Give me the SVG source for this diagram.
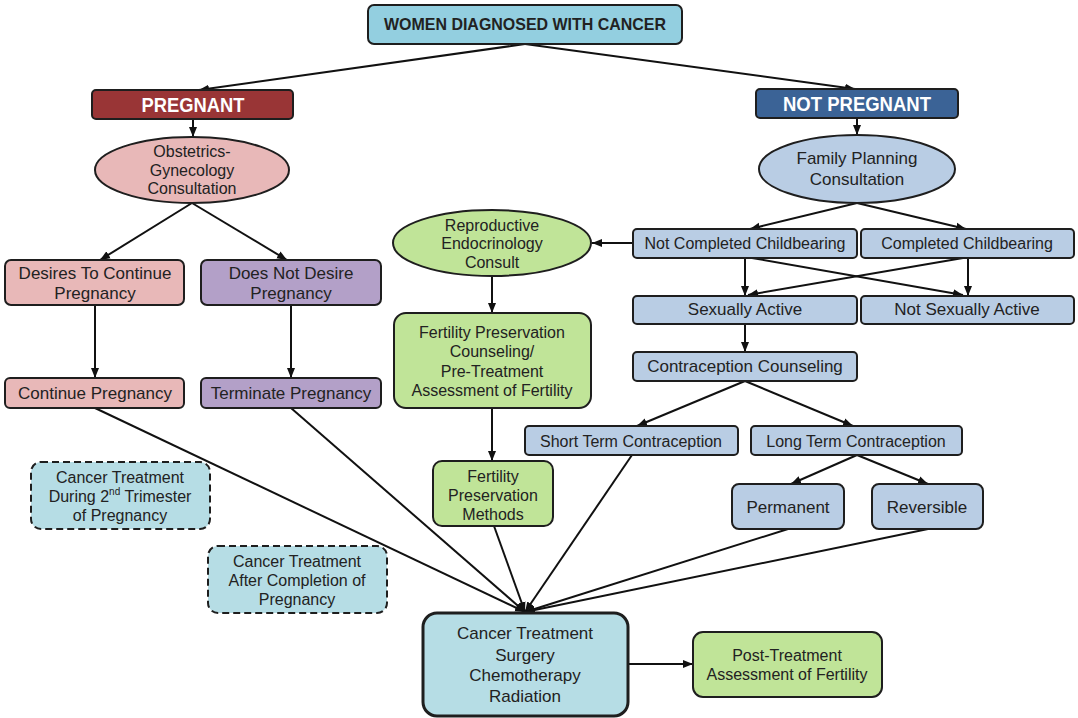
<svg xmlns="http://www.w3.org/2000/svg" width="1078" height="718" viewBox="0 0 1078 718">
<style>
  .n { stroke:#1e1e1e; stroke-width:2; }
  .t { font-family:"Liberation Sans", Arial, sans-serif; font-size:16px; fill:#222; text-anchor:middle; }
  .t17 { font-size:17px; }
  .hd { font-weight:bold; fill:#fff; font-size:20px; }
  .pink { fill:#e8b8b8; }
  .purple { fill:#b3a0c8; }
  .blue { fill:#b9cde4; }
  .green { fill:#c0e498; }
  .cyan { fill:#b6dde5; }
  .dash { stroke-dasharray:7 4; }
  .c line { stroke:#111; stroke-width:2; marker-end:url(#ah); }
</style>
<defs>
  <marker id="ah" viewBox="0 0 10 10" refX="10" refY="5" markerWidth="10" markerHeight="10" markerUnits="userSpaceOnUse" orient="auto">
    <path d="M0,1 L10,5 L0,9 z" fill="#111"/>
  </marker>
</defs>
<rect width="1078" height="718" fill="#fff"/>

<g class="c" id="connectors">
  <line x1="525" y1="44" x2="199" y2="90"/>
  <line x1="525" y1="44" x2="855" y2="89"/>
  <line x1="193" y1="119" x2="193" y2="137"/>
  <line x1="857" y1="118" x2="857" y2="135"/>
  <line x1="192" y1="203" x2="100" y2="260"/>
  <line x1="192" y1="203" x2="287" y2="260"/>
  <line x1="95" y1="305" x2="95" y2="378"/>
  <line x1="291" y1="305" x2="291" y2="378"/>
  <line x1="857" y1="203" x2="750" y2="229"/>
  <line x1="857" y1="203" x2="966" y2="229"/>
  <line x1="633" y1="243" x2="592" y2="243"/>
  <line x1="492" y1="277" x2="492" y2="313"/>
  <line x1="492" y1="408" x2="492" y2="461"/>
  <line x1="745" y1="258" x2="745" y2="296"/>
  <line x1="752" y1="258" x2="963" y2="295"/>
  <line x1="968" y1="258" x2="968" y2="296"/>
  <line x1="963" y1="258" x2="748" y2="295"/>
  <line x1="745" y1="324" x2="745" y2="352"/>
  <line x1="745" y1="381" x2="637" y2="426"/>
  <line x1="745" y1="381" x2="853" y2="426"/>
  <line x1="857" y1="455" x2="791" y2="484"/>
  <line x1="857" y1="455" x2="928" y2="484"/>
  <line x1="95" y1="408" x2="525" y2="612"/>
  <line x1="291" y1="408" x2="525" y2="612"/>
  <line x1="494" y1="526" x2="525" y2="612"/>
  <line x1="632" y1="455" x2="525" y2="612"/>
  <line x1="788" y1="529" x2="525" y2="612"/>
  <line x1="928" y1="529" x2="525" y2="612"/>
  <line x1="629" y1="664" x2="693" y2="664"/>
</g>

<g id="women">
  <rect class="n" x="368" y="5" width="314" height="39" rx="6" fill="#93cfe0"/>
  <text class="t" x="525" y="30" style="font-weight:bold;font-size:17px" textLength="282" lengthAdjust="spacingAndGlyphs">WOMEN DIAGNOSED WITH CANCER</text>
</g>
<g id="pregnant">
  <rect class="n" x="92" y="90" width="201" height="29" rx="4" fill="#993536"/>
  <text class="t hd" x="193" y="111.5" textLength="103" lengthAdjust="spacingAndGlyphs">PREGNANT</text>
</g>
<g id="notpregnant">
  <rect class="n" x="756" y="89" width="202" height="29" rx="4" fill="#3b6396"/>
  <text class="t hd" x="857" y="110.5" textLength="148" lengthAdjust="spacingAndGlyphs">NOT PREGNANT</text>
</g>
<g id="obgyn">
  <ellipse class="n pink" cx="192" cy="170" rx="97" ry="33"/>
  <text class="t" x="192" y="157">Obstetrics-</text>
  <text class="t" x="192" y="176">Gynecology</text>
  <text class="t" x="192" y="194">Consultation</text>
</g>
<g id="desires">
  <rect class="n pink" x="5" y="260" width="179" height="45" rx="6"/>
  <text class="t t17" x="95" y="279">Desires To Continue</text>
  <text class="t t17" x="95" y="299">Pregnancy</text>
</g>
<g id="doesnot">
  <rect class="n purple" x="201" y="260" width="180" height="45" rx="6"/>
  <text class="t t17" x="291" y="279">Does Not Desire</text>
  <text class="t t17" x="291" y="299">Pregnancy</text>
</g>
<g id="continue">
  <rect class="n pink" x="5" y="378" width="179" height="30" rx="5"/>
  <text class="t t17" x="95" y="399">Continue Pregnancy</text>
</g>
<g id="terminate">
  <rect class="n purple" x="201" y="378" width="180" height="30" rx="5"/>
  <text class="t t17" x="291" y="399">Terminate Pregnancy</text>
</g>
<g id="during">
  <rect class="n cyan dash" x="31" y="462" width="179" height="67" rx="10"/>
  <text class="t" x="120" y="483">Cancer Treatment</text>
  <text class="t" x="120" y="502">During 2<tspan font-size="10" dy="-7">nd</tspan><tspan dy="7"> Trimester</tspan></text>
  <text class="t" x="120" y="521">of Pregnancy</text>
</g>
<g id="after">
  <rect class="n cyan dash" x="208" y="546" width="179" height="67" rx="10"/>
  <text class="t" x="297" y="567">Cancer Treatment</text>
  <text class="t" x="297" y="586">After Completion of</text>
  <text class="t" x="297" y="605">Pregnancy</text>
</g>
<g id="repro">
  <ellipse class="n green" cx="492" cy="243" rx="99" ry="33"/>
  <text class="t" x="492" y="231">Reproductive</text>
  <text class="t" x="492" y="249">Endocrinology</text>
  <text class="t" x="492" y="268">Consult</text>
</g>
<g id="fpc">
  <rect class="n green" x="394" y="313" width="197" height="95" rx="12"/>
  <text class="t" x="492" y="338">Fertility Preservation</text>
  <text class="t" x="492" y="357">Counseling/</text>
  <text class="t" x="492" y="377">Pre-Treatment</text>
  <text class="t" x="492" y="396">Assessment of Fertility</text>
</g>
<g id="fpm">
  <rect class="n green" x="433" y="461" width="120" height="65" rx="9"/>
  <text class="t" x="493" y="482">Fertility</text>
  <text class="t" x="493" y="501">Preservation</text>
  <text class="t" x="493" y="520">Methods</text>
</g>
<g id="family">
  <ellipse class="n blue" cx="857" cy="169" rx="98" ry="34"/>
  <text class="t t17" x="857" y="164">Family Planning</text>
  <text class="t t17" x="857" y="185">Consultation</text>
</g>
<g id="notcompleted">
  <rect class="n blue" x="633" y="229" width="224" height="29" rx="4"/>
  <text class="t" x="745" y="249">Not Completed Childbearing</text>
</g>
<g id="completed">
  <rect class="n blue" x="861" y="229" width="213" height="29" rx="4"/>
  <text class="t" x="967" y="249">Completed Childbearing</text>
</g>
<g id="sexactive">
  <rect class="n blue" x="633" y="296" width="224" height="28" rx="4"/>
  <text class="t t17" x="745" y="315">Sexually Active</text>
</g>
<g id="notsexactive">
  <rect class="n blue" x="861" y="296" width="213" height="28" rx="4"/>
  <text class="t t17" x="967" y="315">Not Sexually Active</text>
</g>
<g id="contraception">
  <rect class="n blue" x="633" y="352" width="224" height="29" rx="4"/>
  <text class="t t17" x="745" y="372">Contraception Counseling</text>
</g>
<g id="shortterm">
  <rect class="n blue" x="525" y="426" width="213" height="29" rx="4"/>
  <text class="t" x="631" y="447">Short Term Contraception</text>
</g>
<g id="longterm">
  <rect class="n blue" x="751" y="426" width="211" height="29" rx="4"/>
  <text class="t" x="856" y="447">Long Term Contraception</text>
</g>
<g id="permanent">
  <rect class="n blue" x="732" y="484" width="112" height="45" rx="7"/>
  <text class="t t17" x="788" y="513">Permanent</text>
</g>
<g id="reversible">
  <rect class="n blue" x="872" y="484" width="111" height="45" rx="7"/>
  <text class="t t17" x="927" y="513">Reversible</text>
</g>
<g id="treatment">
  <rect x="423" y="613" width="205" height="103" rx="14" fill="#b6dde5" stroke="#1e1e1e" stroke-width="3"/>
  <text class="t t17" x="525" y="639">Cancer Treatment</text>
  <text class="t t17" x="525" y="661">Surgery</text>
  <text class="t t17" x="525" y="681">Chemotherapy</text>
  <text class="t t17" x="525" y="702">Radiation</text>
</g>
<g id="post">
  <rect class="n green" x="693" y="632" width="189" height="65" rx="10"/>
  <text class="t" x="787" y="661">Post-Treatment</text>
  <text class="t" x="787" y="680">Assessment of Fertility</text>
</g>
</svg>
